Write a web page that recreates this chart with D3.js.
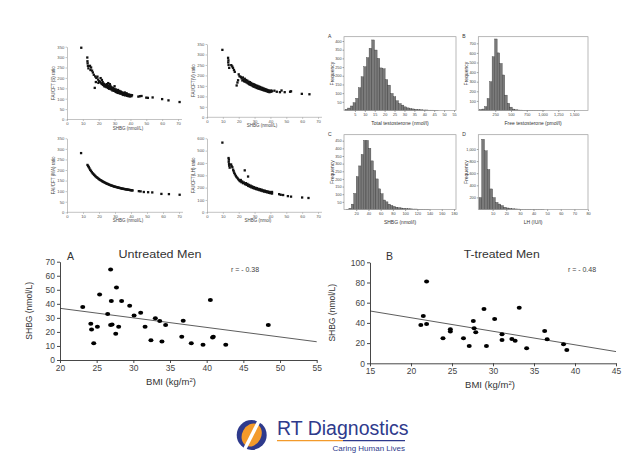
<!DOCTYPE html>
<html><head><meta charset="utf-8">
<script src="https://cdn.jsdelivr.net/npm/d3@7/dist/d3.min.js"></script>
<style>
body{margin:0;background:#fff;}
svg{display:block;font-family:"Liberation Sans",Arial,sans-serif;}
</style></head><body>
<svg id="c" width="634" height="464"></svg>
<script>
// ---------------- DATA ----------------
// Top-left scatter panels: [SHBG, ratio]
const ratioS = [[9,345],[12.8,298],[12.9,280],[13,270],[13.2,258],[13.5,246],[14.5,258],[15.2,250],[14.8,238],[15.8,235],[16.3,226],[16.9,215],[17.5,152],[17.8,207],[18.5,200],[18.2,180],[19.2,206],[19.6,192],[19.8,176],[20.2,184],[20.8,181],[21.2,199],[21.6,174],[22,190],[22.1,170],[22.5,180],[22.8,166],[23.2,172],[23.5,160],[24,168],[24.3,158],[24.7,165],[25,155],[25.3,170],[25.6,160],[25.9,152],[26,175],[26.2,163],[26.5,148],[26.8,158],[27,170],[27.1,150],[27.4,162],[27.7,145],[28,155],[28.3,148],[28.6,140],[28.9,152],[29.2,143],[29.5,138],[29.8,148],[30,160],[30.1,140],[30.4,135],[30.7,145],[31,132],[31.3,140],[31.6,136],[31.9,128],[32.2,142],[32.5,133],[32.8,127],[33.1,137],[33.4,130],[33.7,124],[34,134],[34.3,126],[34.6,130],[34.9,121],[35.2,128],[35.5,118],[35.8,126],[36.1,121],[36.4,130],[36.7,116],[37,124],[37.3,119],[37.6,126],[37.9,114],[38.2,121],[38.5,117],[38.8,112],[39.1,120],[39.4,115],[39.7,111],[40,118],[40.3,114],[40.6,112],[41,117],[45,110],[46,112],[47,113],[50,105],[51,104],[54,106],[60,98],[64,92],[71,84]];
const ratioV = [[9.7,322],[13.3,284],[13.5,272],[13.4,262],[13.6,250],[14,236],[15.3,249],[15.9,243],[16.4,236],[17,226],[17.5,217],[18.7,152],[19.2,166],[19.6,177],[20,205],[20.5,196],[21.3,193],[21.8,186],[22.3,176],[22.6,190],[23,180],[23.4,172],[23.8,184],[24.2,170],[24.6,178],[25,166],[25.4,175],[25.8,162],[26.2,170],[26.6,158],[27,168],[27.4,155],[27.8,164],[28.2,152],[28.6,160],[29,148],[29.4,158],[29.8,146],[30.2,155],[30.6,143],[31,152],[31.4,140],[31.8,150],[32.2,138],[32.6,147],[33,136],[33.4,145],[33.8,134],[34.2,142],[34.6,132],[35,140],[35.4,130],[35.8,137],[36.2,128],[36.6,135],[37,126],[37.4,133],[37.8,124],[38.2,130],[38.6,122],[39,128],[39.4,120],[39.8,126],[40.2,122],[40.6,128],[41,124],[42.5,127],[44,122],[46,120],[47,128],[49,120],[52.4,122],[53,124],[59.8,112],[64.6,110]];
const ratioMA = [[8.8,280],[12.8,224],[13.2,219],[13.6,214],[14,208],[14.5,201],[15,196],[15.5,190],[16,185],[16.5,181],[17,177],[17.5,173],[18,169],[18.5,166],[19,163],[19.5,160],[20,157],[20.5,154],[21,152],[21.5,150],[22,147],[22.5,145],[23,143],[23.5,141],[24,139],[24.5,137],[25,135],[25.5,134],[26,132],[26.5,130],[27,129],[27.5,127],[28,126],[28.5,125],[29,123],[29.5,122],[30,121],[30.5,120],[31,119],[31.5,118],[32,117],[32.5,116],[33,115],[33.5,114],[34,113],[34.5,112],[35,111.5],[35.5,110.5],[36,110],[36.5,109],[37,108.5],[37.5,108],[38,107],[38.5,106.5],[39,106],[39.5,105],[40,104.5],[40.5,104],[41,103.5],[44.9,100],[46,99],[48,96],[50.7,95],[53.3,94],[59,87],[63.7,86],[70.4,83]];
const ratioLH = [[9.7,565],[13.6,440],[13.8,427],[13.7,410],[13.9,392],[14,378],[14.3,362],[15.2,388],[15.5,375],[16,365],[16.5,345],[16.8,333],[17.2,320],[17.6,308],[18.2,296],[18.6,286],[19.2,278],[19.7,268],[20.3,260],[20.8,252],[21.3,262],[21.7,244],[22.2,250],[22.7,236],[23.2,242],[23.8,340],[24,228],[24.5,236],[25,222],[25.5,230],[25.9,290],[26,214],[26.5,222],[27,208],[27.5,216],[28,202],[28.5,210],[29,197],[29.5,204],[30,192],[30.5,199],[31,188],[31.5,195],[32,184],[32.5,190],[33,180],[33.5,187],[34,176],[34.5,183],[35,172],[35.5,178],[36,168],[36.5,175],[37,165],[37.5,171],[38,162],[38.5,168],[39,158],[39.5,165],[40,155],[40.5,162],[41,152],[41,165],[45.5,147],[46.5,142],[48,140],[51,131],[53,127],[60,120],[64,116]];
const shbgTicks = [0,10,20,30,40,50,60,70];
const ratioTicks350 = [0,50,100,150,200,250,300,350];
const ratioTicks600 = [0,100,200,300,400,500,600];

// Histograms: counts per bin
const totalTBinWidth = 1.35;
const totalTCounts = [7,14,26,45,70,131,194,252,304,358,406,348,300,245,240,178,146,98,79,56,40,31,21,15,11,9,7,5,4,3,3,2,2,1,1];
const totalTXTicks = [5,10,15,20,25,30,35,40,45,50,55];
const totalTYTicks = [50,100,150,200,250,300,350,400];

const freeTBinWidth = 40;
const freeTCounts = [10,15,40,125,300,560,745,600,490,370,160,75,35,15,8,5,4,3,3,2,2,1,1,1,1,1];
const freeTXTicks = [250,500,750,1000,1250,1500];
const freeTYTicks = [100,200,300,400,500,600,700];

const shbgBinWidth = 4;
const shbgCounts = [0,2,8,35,105,215,285,360,452,452,400,318,255,200,135,103,62,50,35,26,20,15,12,10,8,6,5,4,3,3,2,2,1,1,1];
const shbgXTicks = [20,40,60,80,100,120,140,160,180];
const shbgYTicks = [50,100,150,200,250,300,350,400,450];

const lhBinWidth = 2;
const lhCounts = [197,1160,970,660,340,197,117,90,64,37,25,18,12,9,7,5,4,3,3,2,2,1,1,1];
const lhXTicks = [10,20,30,40,50,60,70,80];
const lhYTicks = [200,400,600,800,1000];

// Bottom scatter plots: [BMI, SHBG]
const untreatedMen = [[23.1,37.7],[24.2,25.9],[24.3,21.8],[24.6,11.9],[25.1,23.7],[25.4,46.7],[26.5,32.7],[26.9,64.5],[27.0,42.0],[26.9,24.9],[27.1,25.2],[27.7,51.7],[28.0,23.7],[27.6,18.7],[28.4,42.0],[29.5,38.7],[30.1,31.6],[31.0,33.7],[31.6,23.7],[33.0,29.7],[32.4,14.0],[33.6,27.8],[33.9,13.1],[34.4,24.9],[36.6,16.6],[36.8,28.0],[37.9,11.9],[39.5,10.9],[40.5,42.7],[40.8,16.1],[40.9,16.6],[42.6,10.9],[48.4,24.9]];
const untreatedFit = [[20,36.8],[55,13.0]];
const untreatedR = "r = - 0.38";
const treatedMen = [[21.2,38],[21.5,46.9],[21.9,80.9],[21.9,38.9],[23.9,24.8],[24.8,31.4],[24.8,33.7],[26.4,24.8],[27.1,17.2],[27.6,41.9],[27.7,34.7],[27.9,30.7],[28.9,53.8],[29.2,17.2],[30.2,43.9],[31.1,28.7],[31.1,23.1],[32.3,24.1],[32.7,22.4],[33.2,55.1],[34.1,14.9],[36.3,32.0],[36.6,23.8],[38.6,18.8],[39.0,13.2]];
const treatedFit = [[15,51.8],[45,11.6]];
const treatedR = "r = - 0.48";
const bmiTicksA = [20,25,30,35,40,45,50,55];
const shbgTicksA = [0,10,20,30,40,50,60,70];
const bmiTicksB = [15,20,25,30,35,40,45];
const shbgTicksB = [0,20,40,60,80,100];

// ---------------- DRAWING ----------------
const svg = d3.select('#c');

function styleAxis(g, color, fs, textColor){
  g.selectAll('path').attr('stroke', color).attr('stroke-width', 0.6);
  g.selectAll('line').attr('stroke', color).attr('stroke-width', 0.6);
  g.selectAll('text').attr('font-size', fs).attr('fill', textColor || '#444')
    .attr('font-family','"Liberation Sans",Arial,sans-serif');
}

function smallScatter(o){
  const x = d3.scaleLinear().domain([0,70]).range([o.left, o.x70]);
  const y = d3.scaleLinear().domain([0,o.yMax]).range([o.bottom, o.top]);
  const g = svg.append('g');
  const xa = g.append('g').attr('transform',`translate(0,${o.bottom})`)
    .call(d3.axisBottom(x).tickValues(shbgTicks).tickSize(1.5).tickSizeOuter(0).tickPadding(1.2));
  xa.select('.domain').attr('d', `M${o.left},0H${x(72.5)}`);
  styleAxis(xa,'#9a9a9a',4.2,'#555');
  const ya = g.append('g').attr('transform',`translate(${o.left},0)`)
    .call(d3.axisLeft(y).tickValues(o.yTicks).tickSize(1.5).tickSizeOuter(0).tickPadding(1.2));
  styleAxis(ya,'#9a9a9a',4.2,'#555');
  g.selectAll('.pt').data(o.data).enter().append('rect')
    .attr('x', d=>x(d[0])-1.15).attr('y', d=>y(d[1])-1.15).attr('width',2.3).attr('height',2.3)
    .attr('fill','#111');
  g.append('text').attr('x', o.xLabelX).attr('y', o.bottom+10).attr('text-anchor','middle')
    .attr('font-size',4.5).attr('fill','#444').text(o.xLabel);
  g.append('text').attr('transform',`translate(${o.yLabelX},${(o.top+o.bottom)/2}) rotate(-90)`)
    .attr('text-anchor','middle').attr('font-size',4.5).attr('fill','#444').text(o.yLabel);
}

smallScatter({data:ratioS,left:67,x70:178,bottom:119.5,top:46.7,yMax:350,yTicks:ratioTicks350,xLabel:'SHBG (nmol/L)',xLabelX:128,yLabel:'FAI/CFT (S) ratio',yLabelX:55});
smallScatter({data:ratioV,left:207,x70:318,bottom:117.3,top:44,yMax:350,yTicks:ratioTicks350,xLabel:'SHBG (nmol/L)',xLabelX:262,yLabel:'FAI/CFT(V) ratio',yLabelX:195});
smallScatter({data:ratioMA,left:67,x70:179,bottom:212.3,top:138.3,yMax:350,yTicks:ratioTicks350,xLabel:'SHBG (nmol/L)',xLabelX:128,yLabel:'FAI/CFT (MA) ratio',yLabelX:55});
smallScatter({data:ratioLH,left:207,x70:318,bottom:212.3,top:138.3,yMax:600,yTicks:ratioTicks600,xLabel:'SHBG (nmol)',xLabelX:258,yLabel:'FAI/CFT(LH) ratio',yLabelX:195});

function histogram(o){
  const x = d3.scaleLinear().domain(o.xAnchor).range(o.xAnchorPx);
  const y = d3.scaleLinear().domain(o.yAnchor).range(o.yAnchorPx);
  const g = svg.append('g');
  const bins = o.counts.map((c,i)=>({x0:i*o.bw, x1:(i+1)*o.bw, c}));
  g.selectAll('.bar').data(bins).enter().append('rect')
    .attr('x', d=>x(d.x0)).attr('width', d=>x(d.x1)-x(d.x0))
    .attr('y', d=>y(d.c)).attr('height', d=>y(0)-y(d.c))
    .attr('fill','#7a7a7a').attr('stroke','#333').attr('stroke-width',0.35);
  g.append('rect').attr('x',o.fl).attr('y',o.ft).attr('width',o.fr-o.fl).attr('height',o.fb-o.ft)
    .attr('fill','none').attr('stroke','#9a9a9a').attr('stroke-width',0.7);
  const xa = g.append('g').attr('transform',`translate(0,${o.fb})`)
    .call(d3.axisBottom(x).tickValues(o.xTicks).tickSize(1.5).tickSizeOuter(0).tickPadding(1));
  xa.select('.domain').remove();
  styleAxis(xa,'#666',3.8,'#444');
  const ya = g.append('g').attr('transform',`translate(${o.fl},0)`)
    .call(d3.axisLeft(y).tickValues(o.yTicks).tickSize(1.5).tickSizeOuter(0).tickPadding(1));
  ya.select('.domain').remove();
  styleAxis(ya,'#666',3.8,'#444');
  g.append('text').attr('x',(o.fl+o.fr)/2).attr('y',o.fb+14).attr('text-anchor','middle')
    .attr('font-size',5).attr('fill','#333').text(o.xLabel);
  g.append('text').attr('transform',`translate(${o.fl-10},${(o.ft+o.fb)/2}) rotate(-90)`)
    .attr('text-anchor','middle').attr('font-size',5).attr('fill','#333').text('Frequency');
  g.append('text').attr('x',o.fl-16).attr('y',o.ft+1).attr('font-size',5).attr('fill','#333').text(o.letter);
}

histogram({counts:totalTCounts,bw:totalTBinWidth,xAnchor:[0,55],xAnchorPx:[345,454],yAnchor:[0,400],yAnchorPx:[110.5,41],
  fl:344,fr:456,ft:36.7,fb:110.5,xTicks:totalTXTicks,yTicks:totalTYTicks,xLabel:'Total testosterone (nmol/l)',letter:'A'});
histogram({counts:freeTCounts,bw:freeTBinWidth,xAnchor:[0,1500],xAnchorPx:[479.5,574],yAnchor:[0,700],yAnchorPx:[110.5,43.3],
  fl:478.3,fr:588,ft:36.7,fb:110.5,xTicks:freeTXTicks,yTicks:freeTYTicks,xLabel:'Free testosterone (pmol/l)',letter:'B'});
histogram({counts:shbgCounts,bw:shbgBinWidth,xAnchor:[0,180],xAnchorPx:[344,454],yAnchor:[0,450],yAnchorPx:[209.5,140.7],
  fl:344,fr:456,ft:134.7,fb:209.5,xTicks:shbgXTicks,yTicks:shbgYTicks,xLabel:'SHBG (nmol/l)',letter:'C'});
histogram({counts:lhCounts,bw:lhBinWidth,xAnchor:[0,80],xAnchorPx:[479,588],yAnchor:[0,1000],yAnchorPx:[209.5,149],
  fl:478.3,fr:588,ft:134.7,fb:209.5,xTicks:lhXTicks,yTicks:lhYTicks,xLabel:'LH (IU/l)',letter:'D'});

function bigScatter(o){
  const x = d3.scaleLinear().domain(o.xDomain).range([o.left,o.right]);
  const y = d3.scaleLinear().domain(o.yDomain).range([o.bottom,o.top]);
  const g = svg.append('g');
  const xa = g.append('g').attr('transform',`translate(0,${o.bottom})`)
    .call(d3.axisBottom(x).tickValues(o.xTicks).tickSize(3).tickSizeOuter(0).tickPadding(2));
  styleAxis(xa,'#333',8.5,'#444');
  xa.selectAll('path,line').attr('stroke-width',0.9);
  const ya = g.append('g').attr('transform',`translate(${o.left},0)`)
    .call(d3.axisLeft(y).tickValues(o.yTicks).tickSize(3).tickSizeOuter(0).tickPadding(2));
  styleAxis(ya,'#333',8.5,'#444');
  ya.selectAll('path,line').attr('stroke-width',0.9);
  g.append('line').attr('x1',x(o.fit[0][0])).attr('y1',y(o.fit[0][1]))
    .attr('x2',x(o.fit[1][0])).attr('y2',y(o.fit[1][1])).attr('stroke','#333').attr('stroke-width',0.8);
  g.selectAll('.pt').data(o.data).enter().append('ellipse')
    .attr('cx',d=>x(d[0])).attr('cy',d=>y(d[1])).attr('rx',2.5).attr('ry',2).attr('fill','#000');
  g.append('text').attr('x',o.titleX).attr('y',o.top-4).attr('text-anchor','middle')
    .attr('font-size',10.5).attr('fill','#333').attr('textLength',o.titleLen).attr('lengthAdjust','spacingAndGlyphs').text(o.title);
  g.append('text').attr('x',o.letterX).attr('y',o.top-2).attr('font-size',10.5).attr('fill','#333').text(o.letter);
  g.append('text').attr('x',o.rX).attr('y',o.top+10).attr('text-anchor','middle')
    .attr('font-size',7).attr('fill','#444').text(o.r);
  g.append('text').attr('transform',`translate(${o.yLabelX},${(o.top+o.bottom)/2}) rotate(-90)`)
    .attr('text-anchor','middle').attr('font-size',8.5).attr('fill','#333').text('SHBG (nmol/L)');
  const t = g.append('text').attr('x',o.xLabelX).attr('y',o.xLabelY).attr('text-anchor','middle')
    .attr('font-size',9.5).attr('fill','#333');
  t.append('tspan').text('BMI (kg/m');
  t.append('tspan').attr('font-size',6).attr('dy',-3.5).text('2');
  t.append('tspan').attr('dy',3.5).text(')');
}

bigScatter({data:untreatedMen,fit:untreatedFit,xDomain:[20,55],yDomain:[0,70],left:60,right:316.7,bottom:360,top:261.7,
  xTicks:bmiTicksA,yTicks:shbgTicksA,title:'Untreated Men',titleX:160,titleLen:83,letter:'A',letterX:67,r:untreatedR,rX:245,
  yLabelX:32,xLabelX:171,xLabelY:385});
bigScatter({data:treatedMen,fit:treatedFit,xDomain:[15,45],yDomain:[0,100],left:370,right:616,bottom:363.3,top:262.3,
  xTicks:bmiTicksB,yTicks:shbgTicksB,title:'T-treated Men',titleX:501.7,titleLen:76,letter:'B',letterX:386,r:treatedR,rX:582,
  yLabelX:335,xLabelX:490,xLabelY:388});

// ---------------- LOGO ----------------
const blue = '#2e3a8c', orange = '#f39a2b';
const logo = svg.append('g').attr('transform','translate(251.7,435)');
logo.append('circle').attr('r',15).attr('fill',blue);
logo.append('ellipse').attr('rx',9.5).attr('ry',12).attr('transform','rotate(28)').attr('fill',orange);
logo.append('line').attr('x1',8.3).attr('y1',-16).attr('x2',-8).attr('y2',16).attr('stroke','#fff').attr('stroke-width',3.5);
svg.append('text').attr('x',277).attr('y',434.5).attr('font-size',19.5).attr('fill',blue).text('RT Diagnostics');
svg.append('line').attr('x1',277).attr('x2',343).attr('y1',440.7).attr('y2',440.7).attr('stroke',orange).attr('stroke-width',1.3);
svg.append('line').attr('x1',343).attr('x2',405).attr('y1',440.7).attr('y2',440.7).attr('stroke',blue).attr('stroke-width',1.3);
svg.append('text').attr('x',405).attr('y',450.5).attr('text-anchor','end').attr('font-size',8).attr('fill',blue).text('Caring Human Lives');
</script>
</body></html>
